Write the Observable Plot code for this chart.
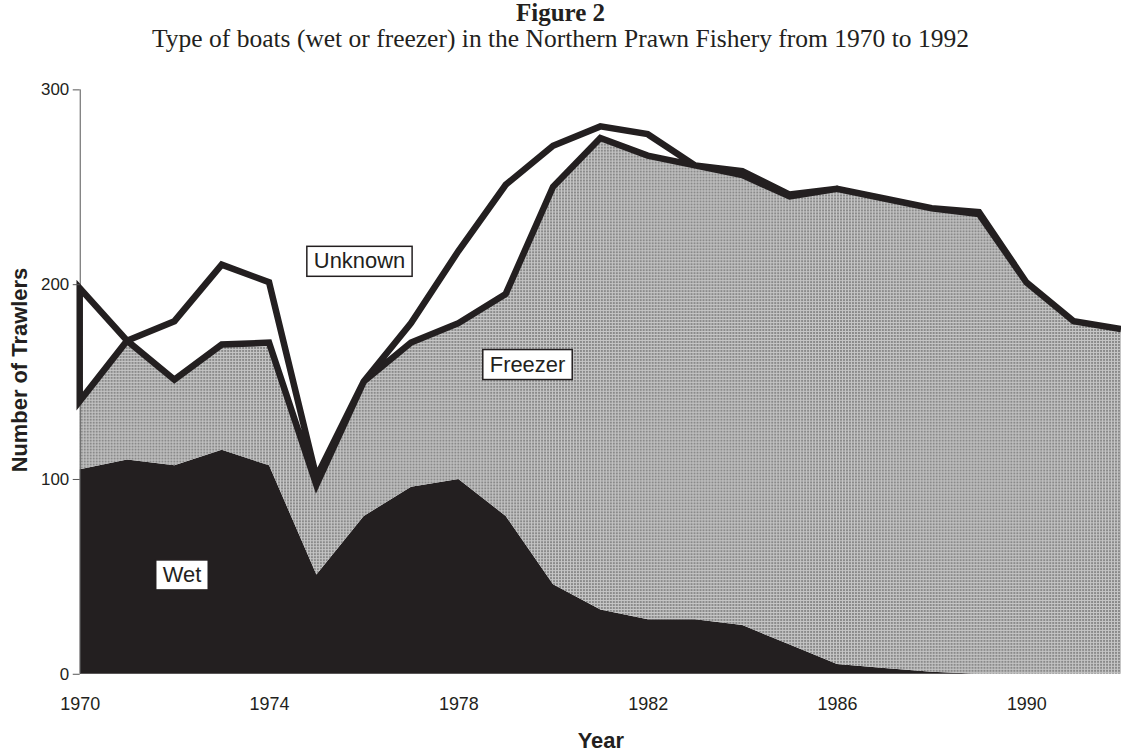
<!DOCTYPE html>
<html>
<head>
<meta charset="utf-8">
<script src="https://cdn.jsdelivr.net/npm/d3@7"></script>
<script src="https://cdn.jsdelivr.net/npm/@observablehq/plot@0.6"></script>
<style>
  html, body { margin: 0; padding: 0; background: #fff; }
  body { width: 1121px; height: 753px; overflow: hidden; }
  #titles { width: 1121px; text-align: center; font-family: "Liberation Serif", "Times New Roman", serif; color: #231f20; }
  #title { font-weight: bold; font-size: 25px; line-height: 26px; height: 26px; }
  #subtitle { font-size: 25.5px; line-height: 26px; height: 28px; }
  #chart svg { display: block; overflow: visible; }
</style>
</head>
<body>
<div id="titles">
  <div id="title">Figure 2</div>
  <div id="subtitle">Type of boats (wet or freezer) in the Northern Prawn Fishery from 1970 to 1992</div>
</div>
<div id="chart"></div>
<script>
// ---- Data ----
const years = [1970,1971,1972,1973,1974,1975,1976,1977,1978,1979,1980,1981,1982,1983,1984,1985,1986,1987,1988,1989,1990,1991,1992];
const wet     = [105,110,107,115,107, 51, 81, 96,100, 81, 46, 33, 28, 28, 25, 15,  5,  3,  1,  0,  0,  0,  0];
const freezer = [ 35, 61, 44, 54, 63, 46, 69, 74, 80,114,204,242,238,233,231,230,244,241,238,236,201,181,177];
const unknown = [ 58,  0, 30, 41, 31,  4,  0, 10, 37, 56, 21,  6, 11,  0,  2,  1,  0,  0,  0,  1,  0,  0,  0];

const xTicks = [1970,1974,1978,1982,1986,1990];
const yTicks = [0,100,200,300];

const labelNames  = ["Unknown","Freezer","Wet"];
const labelYears  = [1975.9, 1979.45, 1972.15];
const labelValues = [212, 159, 51];

const ink = "#231f20";

// stacked table built from the series
const rows = years.map((year, i) => ({
  year,
  wet: wet[i],
  wf: wet[i] + freezer[i],
  total: wet[i] + freezer[i] + unknown[i]
}));

const svg = Plot.plot({
  width: 1125,
  height: 699,
  marginLeft: 80,
  marginRight: 0,
  marginTop: 35.5,
  marginBottom: 77,
  x: {domain: [years[0], years[years.length - 1]]},
  y: {domain: [yTicks[0], yTicks[yTicks.length - 1]]},
  style: {fontFamily: "'Liberation Sans', Arial, sans-serif", fontSize: "17px", color: ink, background: "white"},
  marks: [
    Plot.areaY(rows, {x: "year", y1: 0, y2: "wet", fill: ink}),
    Plot.areaY(rows, {x: "year", y1: "wet", y2: "wf", fill: "url(#dots)"}),
    Plot.ruleX([years[0]], {y1: yTicks[0], y2: yTicks[yTicks.length - 1], stroke: "#555", strokeWidth: 1}),
    Plot.areaY(rows, {x: "year", y1: "wf", y2: "total", fill: "white", stroke: ink, strokeWidth: 6.5, strokeLinejoin: "miter", strokeMiterlimit: 10}),
    Plot.axisY({ticks: yTicks, tickSize: 7, tickPadding: 4, label: null, fontSize: 17, stroke: "#555"}),
    Plot.axisX({ticks: xTicks, tickFormat: "d", tickSize: 0, tickPadding: 23, label: null, fontSize: 18}),
    Plot.text(["Number of Trawlers"], {frameAnchor: "left", textAnchor: "middle", rotate: -90, dx: -60, dy: -12, fontWeight: "bold", fontSize: 22, fill: ink}),
    Plot.text(["Year"], {frameAnchor: "bottom", textAnchor: "middle", lineAnchor: "bottom", dy: 74, fontWeight: "bold", fontSize: 22, fill: ink}),
    Plot.text(labelNames, {x: (d, i) => labelYears[i], y: (d, i) => labelValues[i], text: d => d, fontSize: 22, fill: ink})
  ]
});

document.getElementById("chart").append(svg);

// dotted fill pattern for the freezer area
const defs = d3.select(svg).insert("defs", ":first-child");
const pat = defs.append("pattern").attr("id", "dots").attr("patternUnits", "userSpaceOnUse").attr("width", 3).attr("height", 3);
pat.append("rect").attr("width", 3).attr("height", 3).attr("fill", "#c6c6c6");
pat.append("rect").attr("width", 2).attr("height", 2).attr("fill", "#8a8a8a");

// boxes behind the series labels
const ns = "http://www.w3.org/2000/svg";
Array.from(svg.querySelectorAll("text")).forEach(t => {
  if (!labelNames.includes(t.textContent.trim())) return;
  let b;
  try { b = t.getBBox(); } catch (e) { return; }
  const r = document.createElementNS(ns, "rect");
  r.setAttribute("x", b.x - 7);
  r.setAttribute("y", b.y - 2);
  r.setAttribute("width", b.width + 14);
  r.setAttribute("height", b.height + 5);
  r.setAttribute("fill", "white");
  r.setAttribute("stroke", ink);
  r.setAttribute("stroke-width", 1.5);
  const tr = t.getAttribute("transform");
  if (tr) r.setAttribute("transform", tr);
  t.parentNode.insertBefore(r, t);
});
</script>
</body>
</html>
